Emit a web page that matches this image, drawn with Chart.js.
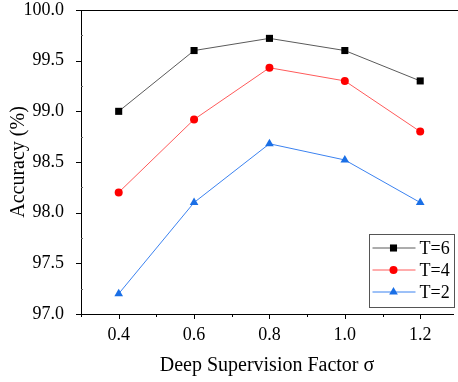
<!DOCTYPE html>
<html>
<head>
<meta charset="utf-8">
<script src="https://cdn.jsdelivr.net/npm/chart.js@4.4.1/dist/chart.umd.min.js"></script>
<style>
  html, body { margin: 0; padding: 0; background: #fff; overflow: hidden; }
</style>
</head>
<body>
<canvas id="myChart" width="458" height="382"></canvas>
<script>
// valores
var sigma = [0.4, 0.6, 0.8, 1.0, 1.2];
var accT6 = [99.0, 99.6, 99.72, 99.6, 99.3];
var accT4 = [98.2, 98.92, 99.43, 99.3, 98.8];
var accT2 = [97.2, 98.1, 98.68, 98.52, 98.1];
var xTicks = [0.4, 0.6, 0.8, 1.0, 1.2];
var xMinor = [0.3, 0.5, 0.7, 0.9, 1.1];
var yTicks = [97.0, 97.5, 98.0, 98.5, 99.0, 99.5, 100.0];
var yMinor = [97.25, 97.75, 98.25, 98.75, 99.25, 99.75];

var serif = '"Liberation Serif", serif';

function pts(vals) {
    return sigma.map(function(s, i) { return { x: s, y: vals[i] }; });
}

// ticks, borda superior e legenda desenhados à mão
var extras = {
    id: 'extras',
    afterDraw: function(chart) {
        var ctx = chart.ctx, a = chart.chartArea;
        var xs = chart.scales.x, ys = chart.scales.y;
        ctx.save();
        ctx.strokeStyle = '#000';
        ctx.lineWidth = 1;
        ctx.beginPath();
        ctx.moveTo(a.left, Math.round(a.top) + 0.5);
        ctx.lineTo(chart.width, Math.round(a.top) + 0.5);
        xTicks.forEach(function(v) {
            var px = Math.round(xs.getPixelForValue(v)) + 0.5;
            ctx.moveTo(px, a.bottom); ctx.lineTo(px, a.bottom + 5);
        });
        xMinor.forEach(function(v) {
            var px = Math.round(xs.getPixelForValue(v)) + 0.5;
            ctx.moveTo(px, a.bottom); ctx.lineTo(px, a.bottom + 3);
        });
        yTicks.forEach(function(v) {
            var py = Math.round(ys.getPixelForValue(v)) + 0.5;
            ctx.moveTo(a.left - 5, py); ctx.lineTo(a.left, py);
        });
        ctx.stroke();
        ctx.strokeStyle = '#666';
        ctx.beginPath();
        yMinor.forEach(function(v) {
            var py = Math.round(ys.getPixelForValue(v)) + 0.5;
            ctx.moveTo(a.left, py); ctx.lineTo(a.left + 2, py);
        });
        ctx.stroke();

        // legenda
        var bx = 369.5, by = 234.5, bw = 85, bh = 73;
        ctx.strokeStyle = '#555';
        ctx.fillStyle = '#fff';
        ctx.fillRect(bx, by, bw, bh);
        ctx.strokeRect(bx, by, bw, bh);
        ctx.font = '18px ' + serif;
        ctx.textBaseline = 'middle';
        chart.data.datasets.forEach(function(ds, i) {
            var cy = by + 13.5 + i * 22;
            ctx.strokeStyle = ds.borderColor;
            ctx.beginPath();
            ctx.moveTo(bx + 3, cy); ctx.lineTo(bx + 46, cy);
            ctx.stroke();
            ctx.fillStyle = ds.pointBackgroundColor;
            ctx.beginPath();
            Chart.helpers.drawPoint(ctx, {
                pointStyle: ds.pointStyle, radius: ds.pointRadius, borderWidth: 0, rotation: 0
            }, bx + 24, cy);
            ctx.fillStyle = '#000';
            ctx.fillText(ds.label, bx + 50, cy + 1);
        });
        ctx.restore();
    }
};

new Chart(document.getElementById('myChart').getContext('2d'), {
    type: 'line',
    data: {
        datasets: [
            { label: 'T=6', data: pts(accT6), borderColor: '#5a5a5a', borderWidth: 1,
              pointStyle: 'rect', pointRadius: 5, pointBackgroundColor: '#000', pointBorderWidth: 0 },
            { label: 'T=4', data: pts(accT4), borderColor: '#ff5a5a', borderWidth: 1,
              pointStyle: 'circle', pointRadius: 4, pointBackgroundColor: '#ff0000', pointBorderWidth: 0 },
            { label: 'T=2', data: pts(accT2), borderColor: '#3b82f0', borderWidth: 1,
              pointStyle: 'triangle', pointRadius: 5, pointBackgroundColor: '#1a6fe6', pointBorderWidth: 0 }
        ]
    },
    options: {
        responsive: false,
        animation: false,
        layout: { padding: { top: 10, right: 0, left: 0, bottom: 0 } },
        plugins: { legend: { display: false }, tooltip: { enabled: false } },
        scales: {
            x: {
                type: 'linear', min: 0.3, max: 1.287, // a imagem original corta o eixo à direita
                afterBuildTicks: function(s) { s.ticks = xTicks.map(function(v) { return { value: v }; }); },
                afterFit: function(s) { s.height = 68; s.paddingLeft = 0; s.paddingRight = 0; },
                grid: { display: false },
                border: { display: true, color: '#000', width: 1 },
                ticks: { color: '#000', font: { family: serif, size: 18 }, padding: 2,
                         maxRotation: 0, autoSkip: false,
                         callback: function(v) { return Number(v).toFixed(1); } },
                title: { display: true, text: 'Deep Supervision Factor σ', color: '#000',
                         font: { family: serif, size: 20 }, padding: { top: 0, bottom: 4 } }
            },
            y: {
                min: 97, max: 100,
                afterBuildTicks: function(s) { s.ticks = yTicks.map(function(v) { return { value: v }; }); },
                afterFit: function(s) { s.width = 81; s.paddingTop = 0; s.paddingBottom = 0; },
                grid: { display: false },
                border: { display: true, color: '#000', width: 1 },
                ticks: { color: '#000', font: { family: serif, size: 18 }, padding: 9,
                         callback: function(v) { return Number(v).toFixed(1); } },
                title: { display: true, text: 'Accuracy (%)', color: '#000',
                         font: { family: serif, size: 20 }, padding: { top: 7, bottom: 0 } }
            }
        }
    },
    plugins: [extras]
});
</script>
</body>
</html>
